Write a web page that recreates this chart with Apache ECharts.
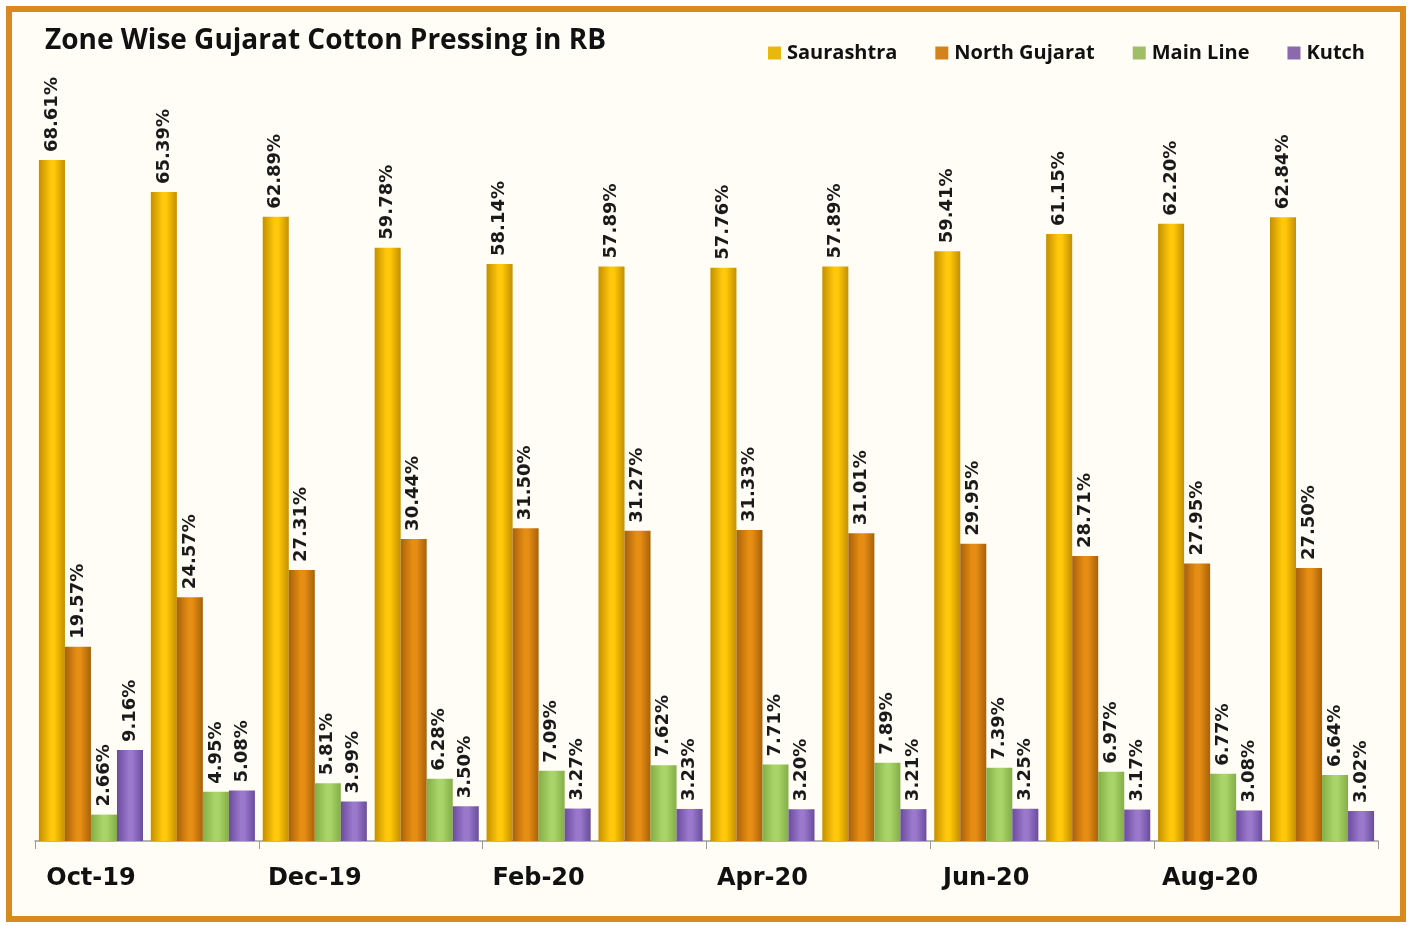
<!DOCTYPE html>
<html>
<head>
<meta charset="utf-8">
<script src="https://cdn.jsdelivr.net/npm/echarts@6/dist/echarts.min.js"></script>
<style>
html,body{margin:0;padding:0;background:#fff;}
#frame{position:absolute;left:6px;top:6px;width:1388px;height:904px;border:6px solid #D88A1E;background:#FFFDF6;}
#chart{position:absolute;left:0;top:0;width:1410px;height:925px;}
</style>
</head>
<body>
<div id="frame"></div>
<div id="chart"></div>
<script>
const categories = ['Oct-19','Nov-19','Dec-19','Jan-20','Feb-20','Mar-20','Apr-20','May-20','Jun-20','Jul-20','Aug-20','Sep-20'];
const saurashtra = [68.61, 65.39, 62.89, 59.78, 58.14, 57.89, 57.76, 57.89, 59.41, 61.15, 62.20, 62.84];
const northGujarat = [19.57, 24.57, 27.31, 30.44, 31.50, 31.27, 31.33, 31.01, 29.95, 28.71, 27.95, 27.50];
const mainLine = [2.66, 4.95, 5.81, 6.28, 7.09, 7.62, 7.71, 7.89, 7.39, 6.97, 6.77, 6.64];
const kutch = [9.16, 5.08, 3.99, 3.50, 3.27, 3.23, 3.20, 3.21, 3.25, 3.17, 3.08, 3.02];

const chart = echarts.init(document.getElementById('chart'), null, {renderer:'canvas'});
function grad(edge, mid) {
  return new echarts.graphic.LinearGradient(0,0,1,0,[
    {offset:0,color:edge},{offset:0.45,color:mid},{offset:0.6,color:mid},{offset:1,color:edge}
  ]);
}
const LBLFONT = '"DejaVu Sans", sans-serif';
const FONT = '"Open Sans", sans-serif';
function mk(name, data, edge, mid) {
  return {
    name: name, type: 'bar', data: data, barGap: '0%', barCategoryGap: '7%',
    itemStyle: { color: grad(edge, mid) },
    label: {
      show: true, position: 'top', rotate: 90, align: 'left', verticalAlign: 'middle', distance: 8,
      formatter: p => p.value.toFixed(2) + '%',
      fontFamily: LBLFONT, fontWeight: 'bold', fontSize: 18, color: '#1a1a1a'
    }
  };
}
chart.setOption({
  backgroundColor: 'transparent',
  animation: false,
  title: { text: 'Zone Wise Gujarat Cotton Pressing in RB', left: 40, top: 22,
    textStyle: { fontFamily: FONT, fontWeight: 'bold', fontSize: 28, color: '#111' } },
  legend: {
    right: 40, top: 38, itemWidth: 13, itemHeight: 13, itemGap: 38, icon: 'rect',
    textStyle: { fontFamily: FONT, fontWeight: 'bold', fontSize: 20, color: '#111', padding:[0,0,0,1] },
    data: [
      {name:'Saurashtra', itemStyle:{color:'#E9B80F'}},
      {name:'North Gujarat', itemStyle:{color:'#D4821C'}},
      {name:'Main Line', itemStyle:{color:'#A0BE66'}},
      {name:'Kutch', itemStyle:{color:'#8A69AC'}}
    ]
  },
  grid: { left: 35, right: 32, top: 47, bottom: 84, containLabel: false },
  xAxis: {
    type: 'category', data: categories,
    axisLine: { lineStyle: { color: '#9a9a9a', width: 1.5 } },
    axisTick: { show: true, interval: 1, length: 8, lineStyle: { color: '#9a9a9a' } },
    axisLabel: { interval: 1, margin: 26, fontFamily: LBLFONT, fontWeight: 'bold', fontSize: 24, color: '#111' }
  },
  yAxis: { type: 'value', min: 0, max: 80, show: false, splitLine: { show: false } },
  series: [
    mk('Saurashtra', saurashtra, '#C48F00', '#FFC80A'),
    mk('North Gujarat', northGujarat, '#A8620A', '#E68D14'),
    mk('Main Line', mainLine, '#84AE46', '#A8D468'),
    mk('Kutch', kutch, '#6A4C9C', '#9A78CC')
  ]
});
</script>
</body>
</html>
